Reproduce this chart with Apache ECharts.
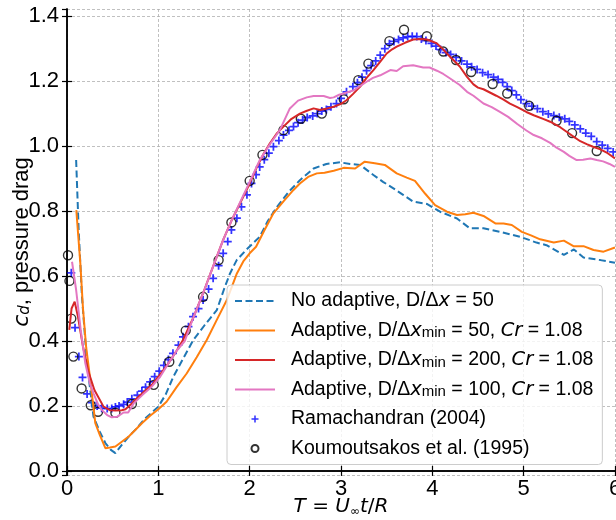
<!DOCTYPE html>
<html><head><meta charset="utf-8">
<script src="https://cdn.jsdelivr.net/npm/echarts@6/dist/echarts.min.js"></script>
<style>html,body{margin:0;padding:0;background:#fff}#c{width:616px;height:520px}</style>
</head><body><div id="c"></div>
<script>
// ---- data ----
const xTicks = [0, 1, 2, 3, 4, 5, 6];
const yTicks = [0.0, 0.2, 0.4, 0.6, 0.8, 1.0, 1.2, 1.4];
const seriesNames = [
  'No adaptive, D/Δx = 50',
  'Adaptive, D/Δx_min = 50, Cr = 1.08',
  'Adaptive, D/Δx_min = 200, Cr = 1.08',
  'Adaptive, D/Δx_min = 100, Cr = 1.08',
  'Ramachandran (2004)',
  'Koumoutsakos et al. (1995)'
];
const seriesColors = ['#1f77b4', '#ff7f0e', '#d62728', '#e377c2', '#0000ff', '#000000'];

const noAdaptiveT  = [0.10,0.128,0.164,0.219,0.29,0.36,0.42,0.48,0.53,0.60,0.676,0.76,0.85,0.93,1.0,1.08,1.164,1.27,1.383,1.51,1.64,1.72,1.785,1.858,1.96,2.11,2.20,2.30,2.43,2.55,2.70,2.84,2.99,3.1,3.21,3.355,3.46,3.574,3.68,3.79,3.94,4.085,4.27,4.41,4.56,4.74,4.96,5.14,5.25,5.44,5.55,5.655,5.84,6.0];
const noAdaptiveCd = [0.957,0.74,0.536,0.332,0.167,0.12,0.086,0.065,0.055,0.08,0.106,0.13,0.16,0.18,0.198,0.235,0.29,0.345,0.403,0.45,0.495,0.56,0.608,0.649,0.68,0.721,0.77,0.813,0.86,0.895,0.931,0.945,0.95,0.945,0.942,0.911,0.89,0.87,0.85,0.829,0.822,0.798,0.777,0.747,0.747,0.736,0.721,0.703,0.695,0.665,0.682,0.657,0.649,0.641];

const adapt50T  = [0.102,0.146,0.175,0.21,0.255,0.31,0.36,0.42,0.47,0.53,0.60,0.676,0.75,0.82,0.91,1.0,1.09,1.2,1.31,1.42,1.53,1.64,1.75,1.86,1.93,2.0,2.07,2.16,2.26,2.37,2.48,2.55,2.64,2.735,2.82,2.92,3.03,3.155,3.26,3.37,3.48,3.61,3.72,3.81,3.92,4.03,4.16,4.27,4.36,4.45,4.56,4.69,4.78,4.87,4.98,5.08,5.18,5.33,5.44,5.545,5.655,5.765,5.875,6.0];
const adapt50Cd = [0.803,0.639,0.50,0.38,0.28,0.147,0.11,0.07,0.072,0.075,0.09,0.106,0.127,0.147,0.17,0.19,0.213,0.258,0.30,0.35,0.403,0.465,0.526,0.608,0.645,0.67,0.69,0.74,0.793,0.83,0.865,0.885,0.905,0.916,0.918,0.924,0.933,0.931,0.952,0.947,0.942,0.916,0.903,0.893,0.854,0.818,0.798,0.788,0.79,0.795,0.785,0.762,0.762,0.757,0.736,0.725,0.713,0.703,0.709,0.692,0.692,0.68,0.675,0.688];

const adapt200T  = [0.025,0.05,0.084,0.12,0.175,0.23,0.30,0.40,0.47,0.53,0.60,0.64,0.70,0.785,0.86,0.93,1.0,1.11,1.2,1.27,1.38,1.49,1.60,1.71,1.80,1.895,2.0,2.08,2.15,2.22,2.30,2.37,2.45,2.55,2.62,2.70,2.77,2.85,2.92,3.0,3.06,3.13,3.21,3.28,3.355,3.43,3.50,3.56,3.61,3.70,3.79,3.87,3.94,4.00,4.05,4.11,4.16,4.23,4.30,4.38,4.45,4.50,4.56,4.63,4.70,4.78,4.85,4.93,5.03,5.11,5.22,5.29,5.40,5.47,5.545,5.62,5.69,5.76,5.84,5.92,6.0];
const adapt200Cd = [0.434,0.50,0.521,0.475,0.383,0.31,0.249,0.198,0.187,0.186,0.187,0.19,0.205,0.229,0.248,0.265,0.29,0.331,0.37,0.403,0.47,0.547,0.63,0.711,0.77,0.824,0.885,0.936,0.975,1.008,1.04,1.06,1.082,1.10,1.108,1.116,1.111,1.116,1.121,1.13,1.141,1.16,1.183,1.21,1.234,1.26,1.285,1.298,1.306,1.318,1.328,1.33,1.328,1.322,1.316,1.30,1.285,1.265,1.245,1.213,1.19,1.18,1.175,1.165,1.155,1.143,1.131,1.12,1.105,1.095,1.083,1.075,1.058,1.044,1.029,1.015,1.006,0.998,0.99,0.978,0.962];

const adapt100T  = [0.055,0.10,0.15,0.20,0.25,0.29,0.34,0.38,0.44,0.49,0.55,0.62,0.67,0.73,0.83,0.93,1.02,1.11,1.20,1.29,1.38,1.49,1.60,1.71,1.80,1.90,2.0,2.11,2.22,2.33,2.44,2.53,2.625,2.70,2.81,2.88,2.92,2.98,3.03,3.14,3.21,3.28,3.35,3.43,3.54,3.61,3.68,3.79,3.90,3.97,4.05,4.12,4.195,4.30,4.38,4.45,4.56,4.65,4.74,4.83,4.93,5.03,5.11,5.20,5.29,5.36,5.44,5.50,5.58,5.65,5.73,5.80,5.87,5.94,6.0];
const adapt100Cd = [0.644,0.557,0.434,0.332,0.27,0.239,0.205,0.188,0.172,0.165,0.167,0.18,0.18,0.208,0.235,0.26,0.29,0.331,0.37,0.40,0.47,0.547,0.63,0.711,0.77,0.83,0.89,0.957,1.005,1.049,1.116,1.14,1.15,1.154,1.154,1.148,1.15,1.158,1.162,1.172,1.185,1.198,1.21,1.218,1.234,1.231,1.246,1.249,1.242,1.242,1.232,1.222,1.208,1.188,1.167,1.155,1.131,1.12,1.105,1.09,1.068,1.048,1.034,1.024,1.01,0.995,0.982,0.97,0.957,0.958,0.962,0.957,0.953,0.945,0.936];

const ramaT  = [0.047,0.088,0.13,0.17,0.22,0.27,0.33,0.38,0.44,0.49,0.53,0.57,0.62,0.66,0.71,0.77,0.82,0.86,0.91,0.96,1.01,1.06,1.11,1.16,1.22,1.27,1.33,1.38,1.44,1.49,1.55,1.60,1.66,1.71,1.76,1.80,1.86,1.91,1.97,2.02,2.07,2.11,2.16,2.21,2.26,2.32,2.37,2.43,2.48,2.53,2.58,2.63,2.69,2.74,2.79,2.84,2.89,2.95,3.00,3.06,3.13,3.18,3.23,3.28,3.33,3.38,3.43,3.48,3.53,3.58,3.63,3.68,3.73,3.78,3.83,3.88,3.93,3.99,4.04,4.09,4.15,4.20,4.26,4.32,4.38,4.43,4.49,4.55,4.61,4.67,4.72,4.77,4.82,4.87,4.92,4.97,5.03,5.09,5.15,5.21,5.27,5.33,5.39,5.45,5.50,5.56,5.62,5.68,5.74,5.80,5.86,5.92,5.98];
const ramaCd = [0.61,0.441,0.352,0.288,0.237,0.21,0.20,0.193,0.192,0.192,0.197,0.2,0.205,0.212,0.222,0.233,0.246,0.258,0.274,0.29,0.307,0.325,0.343,0.362,0.387,0.413,0.444,0.475,0.50,0.526,0.56,0.593,0.632,0.67,0.706,0.742,0.778,0.813,0.85,0.885,0.912,0.936,0.958,0.978,0.998,1.017,1.034,1.048,1.06,1.072,1.08,1.088,1.093,1.10,1.108,1.113,1.121,1.131,1.147,1.167,1.183,1.195,1.212,1.232,1.248,1.262,1.28,1.30,1.315,1.322,1.328,1.333,1.337,1.338,1.337,1.33,1.325,1.316,1.308,1.297,1.288,1.282,1.273,1.262,1.252,1.244,1.236,1.226,1.22,1.212,1.205,1.196,1.183,1.171,1.158,1.143,1.131,1.123,1.115,1.106,1.099,1.094,1.089,1.084,1.076,1.065,1.053,1.04,1.03,1.014,1.003,0.993,0.982];

const koumT  = [0.011,0.027,0.047,0.07,0.16,0.26,0.34,0.53,0.71,0.95,1.12,1.30,1.49,1.66,1.80,2.0,2.14,2.37,2.56,2.79,3.03,3.19,3.30,3.53,3.69,3.94,4.12,4.26,4.425,4.66,4.82,5.06,5.36,5.53,5.80];
const koumCd = [0.664,0.585,0.469,0.352,0.254,0.202,0.182,0.179,0.206,0.265,0.336,0.432,0.536,0.649,0.765,0.893,0.973,1.049,1.084,1.10,1.144,1.203,1.254,1.323,1.358,1.338,1.291,1.265,1.228,1.191,1.162,1.124,1.078,1.04,0.985];

// ---- build ----
const zip = (a, b) => a.map((v, i) => [v, b[i]]);
const SANS = 'Liberation Sans';
const MATH = 'DejaVu Sans';
const LFS = 19.5;

const richStyles = {
  n: {fontFamily: SANS, fontSize: LFS, color: '#000', lineHeight: 20},
  i: {fontFamily: MATH, fontStyle: 'italic', fontSize: LFS, color: '#000', lineHeight: 20},
  s: {fontFamily: SANS, fontSize: 15, color: '#000', lineHeight: 20, verticalAlign: 'bottom'}
};
const legendRich = {
  [seriesNames[0]]: '{n|No adaptive, D/Δ}{i|x}{n| = 50}',
  [seriesNames[1]]: '{n|Adaptive, D/Δ}{i|x}{s|min}{n| = 50, }{i|Cr}{n| = 1.08}',
  [seriesNames[2]]: '{n|Adaptive, D/Δ}{i|x}{s|min}{n| = 200, }{i|Cr}{n| = 1.08}',
  [seriesNames[3]]: '{n|Adaptive, D/Δ}{i|x}{s|min}{n| = 100, }{i|Cr}{n| = 1.08}',
  [seriesNames[4]]: '{n|Ramachandran (2004)}',
  [seriesNames[5]]: '{n|Koumoutsakos et al. (1995)}'
};

const plusPath = 'path://M-1,-0.22 L-0.22,-0.22 L-0.22,-1 L0.22,-1 L0.22,-0.22 L1,-0.22 L1,0.22 L0.22,0.22 L0.22,1 L-0.22,1 L-0.22,0.22 L-1,0.22 Z';
// legend sample icons (40 x 2 strokes)
const solidIcon = 'path://M0,0 L40,0 L40,2 L0,2 Z';
const dashedIcon = 'path://M0,0 L7,0 L7,2 L0,2 Z M10.5,0 L17.5,0 L17.5,2 L10.5,2 Z M21,0 L28,0 L28,2 L21,2 Z M31.5,0 L38.5,0 L38.5,2 L31.5,2 Z M40,0 L40,2 Z';

const gridLine = {show: true, lineStyle: {color: '#b0b0b0', width: 0.8, type: [3, 2]}};
const axisLineStyle = {show: true, lineStyle: {color: '#000', width: 1.5}};
const tickIn = {show: true, inside: true, length: 5, lineStyle: {color: '#000', width: 1.2}};
const fmtY = v => yTicks.some(t => Math.abs(t - v) < 1e-6) ? v.toFixed(1) : '';

const legendData = seriesNames.map((n, k) => {
  if (k === 0) return {name: n, icon: dashedIcon, itemStyle: {color: seriesColors[k], borderWidth: 0}};
  if (k < 4) return {name: n, icon: solidIcon, itemStyle: {color: seriesColors[k], borderWidth: 0}};
  return {name: n};
});

const option = {
  animation: false,
  backgroundColor: '#fff',
  grid: {left: 67, right: 1, top: 9, bottom: 45, containLabel: false, outerBoundsMode: 'none'},
  xAxis: [{
    type: 'value', min: xTicks[0], max: xTicks[xTicks.length - 1], interval: 1,
    axisLine: axisLineStyle, axisTick: tickIn, splitLine: gridLine,
    axisLabel: {color: '#000', fontFamily: SANS, fontSize: 22, margin: 3},
    name: '{i|T}{n| = }{i|U}{s|∞}{i|t}{n|/}{i|R}', nameLocation: 'middle', nameGap: 21, nameMoveOverlap: false,
    nameTextStyle: {rich: {
      n: {fontFamily: MATH, fontSize: 20, color: '#000', lineHeight: 22},
      i: {fontFamily: MATH, fontStyle: 'italic', fontSize: 20, color: '#000', lineHeight: 22},
      s: {fontFamily: MATH, fontSize: 12, color: '#000', lineHeight: 22, verticalAlign: 'bottom'}
    }}
  }, {
    type: 'value', position: 'top', min: xTicks[0], max: xTicks[xTicks.length - 1], interval: 1,
    axisLine: axisLineStyle, axisTick: tickIn, splitLine: {show: false}, axisLabel: {show: false}
  }],
  yAxis: [{
    type: 'value', min: -0.0125, max: 1.422, splitNumber: 7,
    axisLine: axisLineStyle, axisTick: tickIn, splitLine: gridLine,
    axisLabel: {color: '#000', fontFamily: SANS, fontSize: 22, margin: 8, formatter: fmtY, showMinLabel: false, showMaxLabel: false},
    name: '{i|c}{s|d}{n|, pressure drag}', nameLocation: 'middle', nameGap: 34, nameMoveOverlap: false,
    nameTextStyle: {rich: {
      n: {fontFamily: SANS, fontSize: 22, color: '#000', lineHeight: 22},
      i: {fontFamily: MATH, fontStyle: 'italic', fontSize: 22, color: '#000', lineHeight: 22},
      s: {fontFamily: MATH, fontStyle: 'italic', fontSize: 15, color: '#000', lineHeight: 22, verticalAlign: 'bottom'}
    }}
  }, {
    type: 'value', position: 'right', min: -0.0125, max: 1.422, splitNumber: 7,
    axisLine: axisLineStyle, axisTick: tickIn, splitLine: {show: false}, axisLabel: {show: false}
  }],
  legend: {
    orient: 'vertical', left: 227, top: 285,
    itemWidth: 40, itemHeight: 7, itemGap: 9.5,
    padding: [6, 9, 6, 8],
    borderColor: '#cccccc', borderWidth: 1, borderRadius: 4,
    backgroundColor: 'rgba(255,255,255,0.8)',
    data: legendData,
    formatter: name => legendRich[name],
    textStyle: {padding: [0, 0, 0, 11], width: 306, rich: richStyles}
  },
  series: [
    {name: seriesNames[0], type: 'line', data: zip(noAdaptiveT, noAdaptiveCd), showSymbol: false, symbol: 'none',
     lineStyle: {color: seriesColors[0], width: 2, type: [7, 3.5]}, itemStyle: {color: seriesColors[0]}},
    {name: seriesNames[1], type: 'line', data: zip(adapt50T, adapt50Cd), showSymbol: false, symbol: 'none',
     lineStyle: {color: seriesColors[1], width: 2}, itemStyle: {color: seriesColors[1]}},
    {name: seriesNames[2], type: 'line', data: zip(adapt200T, adapt200Cd), showSymbol: false, symbol: 'none',
     lineStyle: {color: seriesColors[2], width: 2}, itemStyle: {color: seriesColors[2]}},
    {name: seriesNames[3], type: 'line', data: zip(adapt100T, adapt100Cd), showSymbol: false, symbol: 'none',
     lineStyle: {color: seriesColors[3], width: 2}, itemStyle: {color: seriesColors[3]}},
    {name: seriesNames[4], type: 'scatter', data: zip(ramaT, ramaCd), symbol: plusPath, symbolSize: 8,
     itemStyle: {color: seriesColors[4]}},
    {name: seriesNames[5], type: 'scatter', data: zip(koumT, koumCd), symbol: 'circle', symbolSize: 9,
     itemStyle: {color: 'rgba(0,0,0,0)', borderColor: seriesColors[5], borderWidth: 1.4}}
  ]
};
echarts.init(document.getElementById('c'), null, {renderer: 'canvas'}).setOption(option);
</script></body></html>
